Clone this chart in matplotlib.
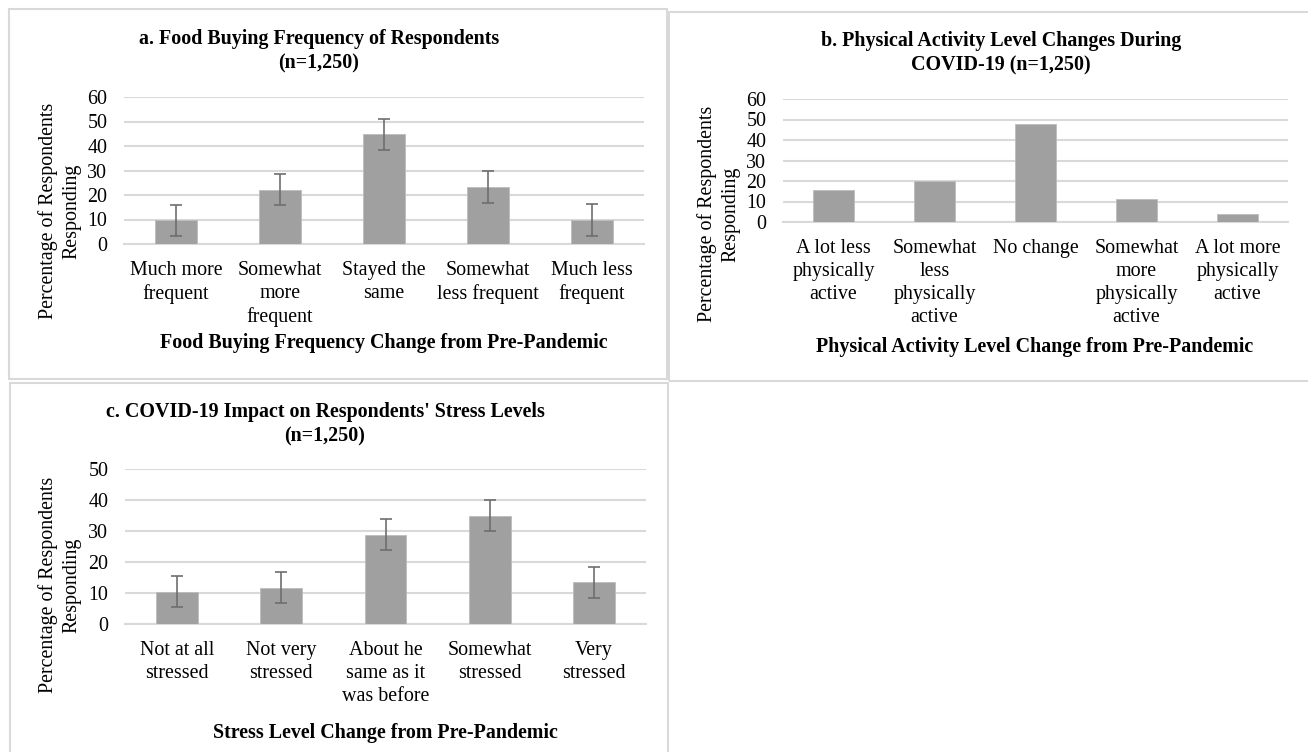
import matplotlib.pyplot as plt
from matplotlib.patches import Rectangle

plt.rcParams['font.family'] = ['Liberation Serif', 'DejaVu Serif']

# panel a
food_cats = ['Much more\nfrequent', 'Somewhat\nmore\nfrequent', 'Stayed the\nsame',
             'Somewhat\nless frequent', 'Much less\nfrequent']
food_vals = [9.6, 22.2, 44.8, 23.3, 9.8]
food_err = [6.4, 6.4, 6.4, 6.4, 6.4]

# panel b
phys_cats = ['A lot less\nphysically\nactive', 'Somewhat\nless\nphysically\nactive', 'No change',
             'Somewhat\nmore\nphysically\nactive', 'A lot more\nphysically\nactive']
phys_vals = [15.6, 20.0, 48.0, 11.2, 3.9]

# panel c
stress_cats = ['Not at all\nstressed', 'Not very\nstressed', 'About he\nsame as it\nwas before',
               'Somewhat\nstressed', 'Very\nstressed']
stress_vals = [10.4, 11.7, 28.8, 34.9, 13.5]
stress_err = [5.0, 5.0, 5.0, 5.0, 5.0]

W, H = 1308, 752
fig = plt.figure(figsize=(W / 100, H / 100), dpi=100)
FS = 14.4
LS = 1.29
BAR = '#A0A0A0'
GRID = '#D9D9D9'


def px_axes(x0, y0, x1, y1):
    return fig.add_axes([x0 / W, 1 - y1 / H, (x1 - x0) / W, (y1 - y0) / H])


def ftext(x, y, s, **kw):
    fig.text(x / W, 1 - y / H, s, fontsize=FS, ha='center', va='center',
             multialignment='center', linespacing=LS, **kw)


def box(x0, y0, x1, y1):
    fig.add_artist(Rectangle((x0 / W, 1 - y1 / H), (x1 - x0) / W, (y1 - y0) / H,
                             transform=fig.transFigure, fill=False, ec=GRID, lw=1.5))


def draw(ax, cats, vals, err, ymax):
    x = range(len(cats))
    ax.bar(x, vals, width=0.4, color=BAR, edgecolor='#BDBDBD', linewidth=0.6, zorder=3)
    if err is not None:
        ax.errorbar(x, vals, yerr=err, fmt='none', ecolor='#6E6E6E', elinewidth=1.2,
                    capsize=4, capthick=1.2, zorder=4)
    ax.set_xlim(-0.5, len(cats) - 0.5)
    ax.set_ylim(0, ymax)
    ax.set_yticks(range(0, ymax + 1, 10))
    ax.set_xticks(list(x))
    ax.set_xticklabels(cats, fontsize=FS, linespacing=LS)
    ax.tick_params(axis='both', length=0, labelsize=FS)
    ax.tick_params(axis='y', pad=12)
    ax.tick_params(axis='x', pad=12)
    ax.grid(axis='y', color=GRID, lw=1.5, zorder=0)
    for s in ['top', 'right', 'left']:
        ax.spines[s].set_visible(False)
    ax.spines['bottom'].set_color(GRID)
    ax.spines['bottom'].set_linewidth(1.5)


box(9, 9, 667, 379)
box(669, 12, 1320, 381)
box(10, 383, 668, 770)

ax1 = px_axes(124, 97, 644, 244)
draw(ax1, food_cats, food_vals, food_err, 60)
ftext(319, 51.5, 'a. Food Buying Frequency of Respondents\n(n=1,250)', fontweight='bold')
ftext(384, 343, 'Food Buying Frequency Change from Pre-Pandemic', fontweight='bold')
ftext(60, 211, 'Percentage of Respondents\nResponding', rotation=90)

ax2 = px_axes(783, 99, 1288, 222)
draw(ax2, phys_cats, phys_vals, None, 60)
ftext(1001, 53.5, 'b. Physical Activity Level Changes During\nCOVID-19 (n=1,250)', fontweight='bold')
ftext(1035, 347, 'Physical Activity Level Change from Pre-Pandemic', fontweight='bold')
ftext(719, 214, 'Percentage of Respondents\nResponding', rotation=90)

ax3 = px_axes(125, 469, 646, 624)
draw(ax3, stress_cats, stress_vals, stress_err, 50)
ftext(325, 424.5, "c. COVID-19 Impact on Respondents' Stress Levels\n(n=1,250)", fontweight='bold')
ftext(385, 733, 'Stress Level Change from Pre-Pandemic', fontweight='bold')
ftext(60, 585, 'Percentage of Respondents\nResponding', rotation=90)

plt.savefig('out.png', dpi=100)
